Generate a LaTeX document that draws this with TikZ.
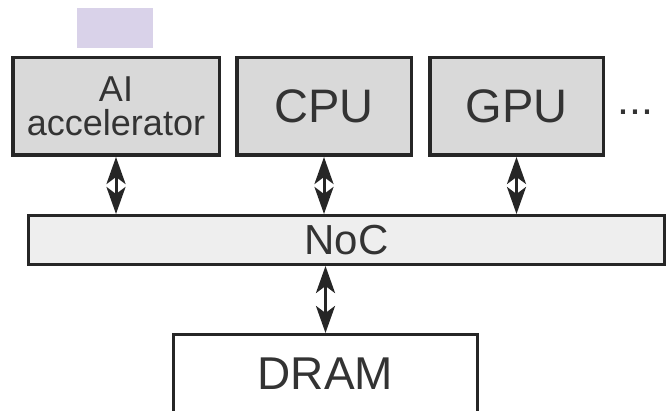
\documentclass[tikz,border=0pt]{standalone}
\usepackage{fontspec}
\setmainfont{Liberation Sans}
\usetikzlibrary{arrows.meta}
\definecolor{boxgray}{HTML}{D9D9D9}
\definecolor{nocgray}{HTML}{EEEEEE}
\definecolor{lavender}{HTML}{D9D2E9}
\definecolor{edgegray}{HTML}{262626}
\definecolor{textgray}{HTML}{333333}
\tikzset{
  unit/.style={draw=edgegray, line width=3.5pt, fill=boxgray, text=textgray,
    inner sep=0pt, minimum height=97.5pt, font=\fontsize{47}{47}\selectfont},
  bus/.style={draw=edgegray, line width=3pt, fill=nocgray, text=textgray,
    inner sep=0pt, minimum height=49pt, font=\fontsize{42}{42}\selectfont},
  mem/.style={draw=edgegray, line width=3pt, fill=white, text=textgray,
    inner sep=0pt, font=\fontsize{46}{46}\selectfont},
  link/.style={draw=edgegray, line width=3pt, {Stealth[length=27pt,width=19pt,inset=7pt]}-{Stealth[length=27pt,width=19pt,inset=7pt]}},
}
\begin{document}
\begin{tikzpicture}[x=1pt,y=-1pt]
  \useasboundingbox (0,0) rectangle (667,411);
  \clip (0,0) rectangle (667,411);
  \node[fill=lavender, minimum width=76pt, minimum height=40pt, inner sep=0pt] (tag) at (115,28) {};
  \node[unit, minimum width=206.5pt, align=center, font=\fontsize{36}{34}\selectfont] (ai) at (116,106.5) {AI\\accelerator};
  \node[unit, minimum width=174.5pt] (cpu) at (324,106.5) {CPU};
  \node[unit, minimum width=173.5pt] (gpu) at (516.5,106.5) {GPU};
  \node[anchor=base west, inner sep=0pt, text=textgray, font=\fontsize{43}{43}\selectfont] (more) at (617,115) {...};
  \node[bus, minimum width=636pt] (noc) at (346.5,240) {NoC};
  \node[mem, minimum width=304pt, minimum height=78pt] (dram) at (325.5,373.5) {DRAM};
  \begin{scope}[link]
    \draw (ai.south) -- (ai.south |- noc.north);
    \draw (cpu.south) -- (cpu.south |- noc.north);
    \draw (gpu.south) -- (gpu.south |- noc.north);
    \draw (dram.north) -- (dram.north |- noc.south);
  \end{scope}
\end{tikzpicture}
\end{document}
